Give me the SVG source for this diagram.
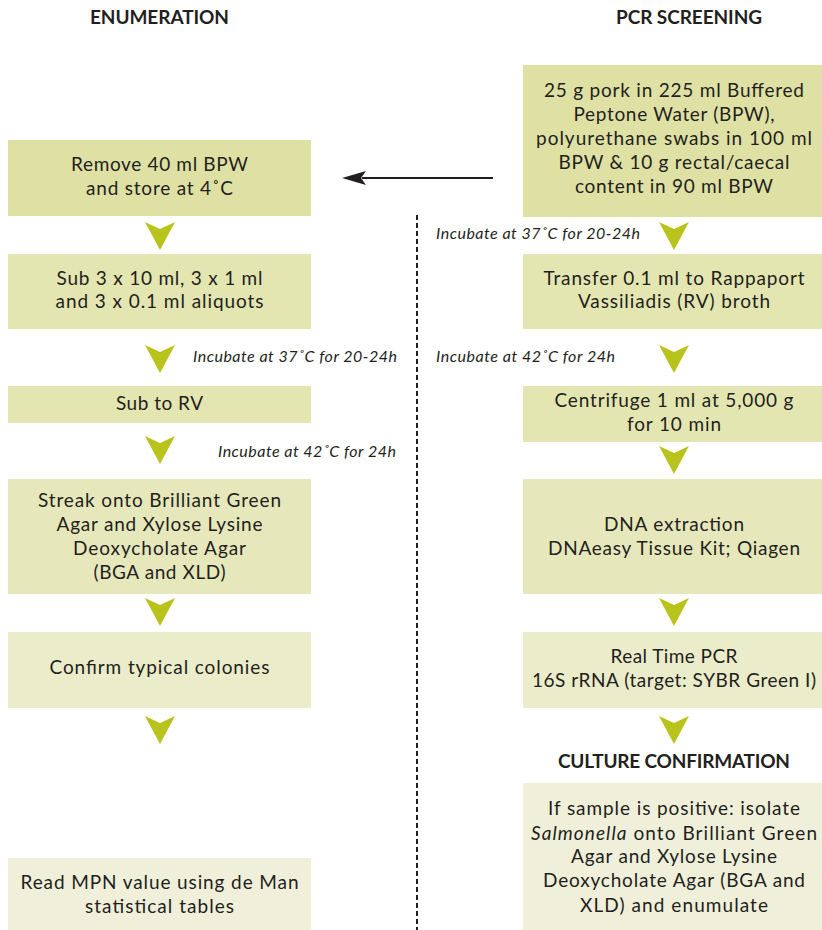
<svg xmlns="http://www.w3.org/2000/svg" width="822" height="930" viewBox="0 0 822 930">
<style>
text{font-family:Lato,"Open Sans","Liberation Sans",sans-serif;fill:#231f20}
.t{font-size:19px;text-anchor:middle}
.h{font-size:19px;font-weight:bold;text-anchor:middle}
.i{font-size:16px;font-style:italic}
.c1{fill:#dee1a3}.c2{fill:#e3e6b1}.c3{fill:#e6e8bb}.c4{fill:#ebecca}.c5{fill:#f0f0da}
.chev{fill:#b8c31b}
</style>
<defs>
<path id="chev" d="M-15,0 L0,7 L15,0 L0,28 Z"/>
</defs>
<text class="h" x="159.5" y="24" textLength="139" lengthAdjust="spacing">ENUMERATION</text>
<text class="h" x="689" y="24" textLength="146" lengthAdjust="spacing">PCR SCREENING</text>

<g id="n1"><rect class="c1" x="8" y="140" width="303" height="76"/><text class="t" x="159.5" y="171" textLength="177" lengthAdjust="spacing">Remove 40 ml BPW</text><text class="t" x="159.5" y="195" textLength="147" lengthAdjust="spacing">and store at 4˚C</text></g>
<g id="n2"><rect class="c2" x="8" y="254" width="303" height="75"/><text class="t" x="159.5" y="285" textLength="206" lengthAdjust="spacing">Sub 3 x 10 ml, 3 x 1 ml</text><text class="t" x="159.5" y="308" textLength="208" lengthAdjust="spacing">and 3 x 0.1 ml aliquots</text></g>
<g id="n3"><rect class="c2" x="8" y="386" width="303" height="37"/><text class="t" x="159.5" y="410" textLength="87" lengthAdjust="spacing">Sub to RV</text></g>
<g id="n4"><rect class="c3" x="8" y="479" width="303" height="115"/><text class="t" x="159.5" y="507" textLength="243" lengthAdjust="spacing">Streak onto Brilliant Green</text><text class="t" x="159.5" y="531" textLength="206" lengthAdjust="spacing">Agar and Xylose Lysine</text><text class="t" x="159.5" y="555" textLength="173" lengthAdjust="spacing">Deoxycholate Agar</text><text class="t" x="159.5" y="579" textLength="132" lengthAdjust="spacing">(BGA and XLD)</text></g>
<g id="n5"><rect class="c4" x="8" y="632" width="303" height="76"/><text class="t" x="159.5" y="674" textLength="220" lengthAdjust="spacing">Confirm typical colonies</text></g>
<g id="n6"><rect class="c5" x="8" y="858" width="303" height="72"/><text class="t" x="159.5" y="889" textLength="278" lengthAdjust="spacing">Read MPN value using de Man</text><text class="t" x="159.5" y="913" textLength="149" lengthAdjust="spacing">statistical tables</text></g>

<g id="r1"><rect class="c1" x="523" y="65" width="299" height="152"/><text class="t" x="674" y="97" textLength="260" lengthAdjust="spacing">25 g pork in 225 ml Buffered</text><text class="t" x="674" y="121" textLength="201" lengthAdjust="spacing">Peptone Water (BPW),</text><text class="t" x="674" y="145" textLength="276" lengthAdjust="spacing">polyurethane swabs in 100 ml</text><text class="t" x="674" y="169" textLength="231" lengthAdjust="spacing">BPW &amp; 10 g rectal/caecal</text><text class="t" x="674" y="193" textLength="198" lengthAdjust="spacing">content in 90 ml BPW</text></g>
<g id="r2"><rect class="c2" x="523" y="254" width="299" height="75"/><text class="t" x="674" y="285" textLength="261" lengthAdjust="spacing">Transfer 0.1 ml to Rappaport</text><text class="t" x="674" y="308" textLength="192" lengthAdjust="spacing">Vassiliadis (RV) broth</text></g>
<g id="r3"><rect class="c2" x="523" y="386" width="299" height="56"/><text class="t" x="674" y="407" textLength="239" lengthAdjust="spacing">Centrifuge 1 ml at 5,000 g</text><text class="t" x="674" y="431" textLength="94" lengthAdjust="spacing">for 10 min</text></g>
<g id="r4"><rect class="c3" x="523" y="479" width="299" height="115"/><text class="t" x="674" y="531" textLength="140" lengthAdjust="spacing">DNA extraction</text><text class="t" x="674" y="555" textLength="252" lengthAdjust="spacing">DNAeasy Tissue Kit; Qiagen</text></g>
<g id="r5"><rect class="c4" x="523" y="632" width="299" height="76"/><text class="t" x="674" y="663" textLength="127" lengthAdjust="spacing">Real Time PCR</text><text class="t" x="674" y="687" textLength="284" lengthAdjust="spacing">16S rRNA (target: SYBR Green I)</text></g>
<text class="h" x="674" y="768" textLength="232" lengthAdjust="spacing">CULTURE CONFIRMATION</text>
<g id="r6"><rect class="c5" x="523" y="783" width="299" height="147"/><text class="t" x="674" y="815" textLength="252" lengthAdjust="spacing">If sample is positive: isolate</text><text class="t" x="674" y="840" textLength="286" lengthAdjust="spacing"><tspan font-style="italic">Salmonella</tspan> onto Brilliant Green</text><text class="t" x="674" y="863" textLength="206" lengthAdjust="spacing">Agar and Xylose Lysine</text><text class="t" x="674" y="887" textLength="262" lengthAdjust="spacing">Deoxycholate Agar (BGA and</text><text class="t" x="674" y="912" textLength="188" lengthAdjust="spacing">XLD) and enumulate</text></g>

<g id="connectors">
<line x1="493" y1="178" x2="362" y2="178" stroke="#231f20" stroke-width="2"/>
<path d="M342,178 L366,171 L361,178 L366,185 Z" fill="#231f20"/>
<line x1="417" y1="215" x2="417" y2="930" stroke="#231f20" stroke-width="2" stroke-dasharray="5,3"/>
<g class="chev">
<use href="#chev" x="160" y="222"/>
<use href="#chev" x="160" y="345"/>
<use href="#chev" x="160" y="436"/>
<use href="#chev" x="160" y="598"/>
<use href="#chev" x="160" y="716"/>
<use href="#chev" x="674" y="222"/>
<use href="#chev" x="674" y="345"/>
<use href="#chev" x="674" y="446"/>
<use href="#chev" x="674" y="598"/>
<use href="#chev" x="674" y="716"/>
</g>
<text class="i" x="193" y="362" textLength="204" lengthAdjust="spacing">Incubate at 37˚C for 20-24h</text>
<text class="i" x="218" y="457" textLength="178" lengthAdjust="spacing">Incubate at 42˚C for 24h</text>
<text class="i" x="436" y="239" textLength="204" lengthAdjust="spacing">Incubate at 37˚C for 20-24h</text>
<text class="i" x="436" y="362" textLength="179" lengthAdjust="spacing">Incubate at 42˚C for 24h</text>
</g>
</svg>
